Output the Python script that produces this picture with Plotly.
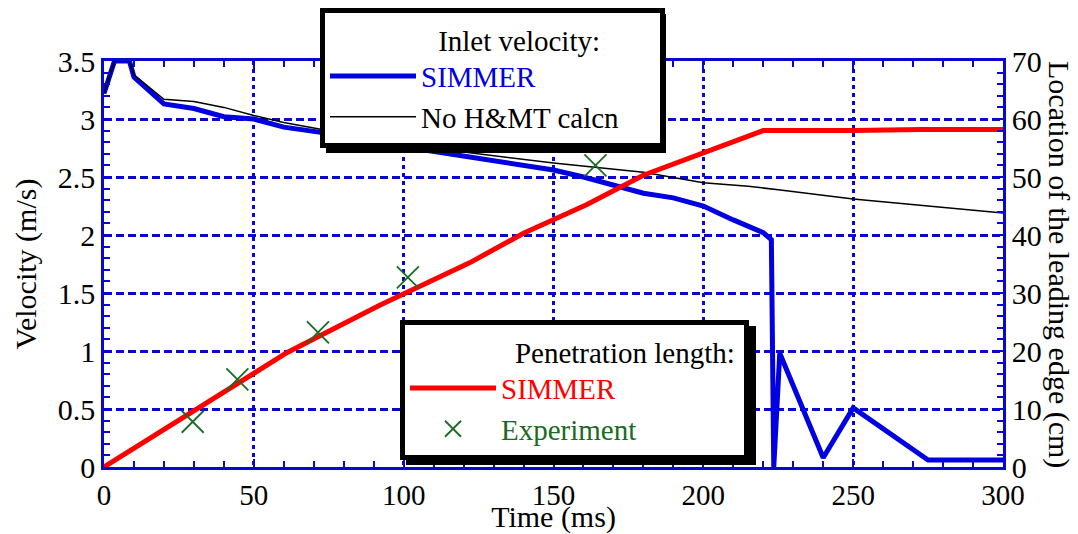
import plotly.graph_objects as go

# ---------------- data ----------------
# Inlet velocity, SIMMER (m/s)
t_simmer = [0, 3.5, 8.5, 10, 20, 30, 40, 50, 60, 70, 80, 90, 100, 110, 120, 130, 140,
            150, 160, 170, 180, 190, 200, 210, 220, 222.7, 223.5, 225.5, 240, 250, 275, 300]
v_simmer = [3.22, 3.5, 3.5, 3.36, 3.13, 3.09, 3.02, 3.0, 2.93, 2.89, 2.86, 2.82, 2.76, 2.72,
            2.68, 2.64, 2.60, 2.56, 2.50, 2.43, 2.36, 2.32, 2.25, 2.13, 2.02, 1.96, 0.0, 0.98,
            0.08, 0.51, 0.06, 0.06]

# Inlet velocity, no H&MT calculation (m/s)
t_nohmt = [0, 3.5, 8.5, 10, 20, 30, 40, 50, 60, 100, 150, 180, 200, 215, 225, 250, 275, 300]
v_nohmt = [3.22, 3.5, 3.5, 3.38, 3.17, 3.15, 3.10, 3.03, 2.97, 2.78, 2.62, 2.54, 2.45,
           2.42, 2.39, 2.31, 2.25, 2.19]

# Penetration length, SIMMER (cm)
t_pen = [0, 40, 61, 92, 122, 140, 161, 180, 220, 250, 273, 300]
x_pen = [0, 12.8, 19.7, 27.9, 35.2, 40.3, 45.2, 50.3, 58.0, 58.0, 58.2, 58.2]

# Penetration length, experiment (cm)
t_exp = [29.6, 44.5, 71.4, 101.4, 164]
x_exp = [7.8, 15.1, 23.2, 32.7, 52.0]

# ---------------- style ----------------
BLUE = "#0000e0"
AXBLUE = "#0808d0"
RED = "#ff0000"
GREEN = "#1b6b24"
FONT = "Liberation Serif, Times New Roman, serif"
FS = 30
LFS = 29
NB = "\u00a0"

W, H = 1078, 534
ML, MR, MT, MB = 104, 75, 61, 67
PW, PH = W - ML - MR, H - MT - MB


def px2paper(xp, yp):
    return (xp - ML) / PW, (H - MB - yp) / PH


fig = go.Figure()
fig.add_trace(go.Scatter(x=t_simmer, y=v_simmer, mode="lines",
                         line=dict(color=BLUE, width=5),
                         name='<span style="color:#0000e0">SIMMER</span>',
                         legend="legend"))
fig.add_trace(go.Scatter(x=t_nohmt, y=v_nohmt, mode="lines",
                         line=dict(color="black", width=1.5),
                         name="No H&MT calcn" + NB * 5, legend="legend"))
fig.add_trace(go.Scatter(x=t_pen, y=x_pen, mode="lines", yaxis="y2",
                         line=dict(color=RED, width=5),
                         name='<span style="color:#ff0000">SIMMER</span>' + NB * 17,
                         legend="legend2"))
fig.add_trace(go.Scatter(x=t_exp, y=x_exp, mode="markers", yaxis="y2",
                         marker=dict(symbol="x-thin", size=22,
                                     line=dict(color=GREEN, width=1.8)),
                         name='<span style="color:#1b6b24">Experiment</span>',
                         legend="legend2"))

axis_common = dict(showline=True, linecolor=AXBLUE, linewidth=2.5, automargin=False,
                   ticks="inside", tickcolor=AXBLUE, tickwidth=2, ticklen=8,
                   zeroline=False)

l1x, l1y = px2paper(320, 8)
l2x, l2y = px2paper(400, 320)

fig.update_layout(
    width=W, height=H,
    margin=dict(l=ML, r=MR, t=MT, b=MB, autoexpand=False),
    paper_bgcolor="white", plot_bgcolor="white",
    font=dict(family=FONT, size=FS, color="black"),
    xaxis=dict(range=[0, 300], dtick=50, tick0=0, mirror="ticks",
               showgrid=True, gridcolor=AXBLUE, gridwidth=3, griddash="4px,4px",
               minor=dict(dtick=10, ticks="inside", ticklen=6, tickcolor=AXBLUE,
                          tickwidth=2, showgrid=False),
               tickfont=dict(family=FONT, size=29, color="black"),
               title=dict(text="Time (ms)", standoff=5,
                          font=dict(family=FONT, size=FS)),
               **axis_common),
    yaxis=dict(range=[0, 3.5], dtick=0.5, tick0=0, mirror="ticks",
               showgrid=True, gridcolor=AXBLUE, gridwidth=2.5, griddash="8px,4px",
               minor=dict(dtick=0.1, ticks="inside", ticklen=6, tickcolor=AXBLUE,
                          tickwidth=2, showgrid=False),
               tickfont=dict(family=FONT, size=FS, color="black"),
               title=dict(text="Velocity (m/s)", standoff=13,
                          font=dict(family=FONT, size=FS)),
               **axis_common),
    yaxis2=dict(range=[0, 70], dtick=10, tick0=0, overlaying="y", side="right",
                showgrid=False,
                minor=dict(dtick=2, ticks="inside", ticklen=6, tickcolor=AXBLUE,
                           tickwidth=2, showgrid=False),
                tickfont=dict(family=FONT, size=FS, color="black"),
                **axis_common),
    legend=dict(x=l1x, y=l1y, xanchor="left", yanchor="top",
                bgcolor="white", bordercolor="black", borderwidth=5,
                itemwidth=86, tracegroupgap=0,
                font=dict(family=FONT, size=LFS, color="black"),
                title=dict(text="Inlet velocity:" + NB * 8, side="top right",
                           font=dict(family=FONT, size=LFS, color="black"))),
    legend2=dict(x=l2x, y=l2y, xanchor="left", yanchor="top",
                 bgcolor="white", bordercolor="black", borderwidth=5,
                 itemwidth=86, tracegroupgap=0,
                 font=dict(family=FONT, size=LFS, color="black"),
                 title=dict(text="Penetration length:" + NB, side="top right",
                            font=dict(family=FONT, size=LFS, color="black"))),
    showlegend=True,
)

# drop shadows of the two legend boxes
for (x0, y0, x1, y1) in [(326, 14, 666, 153), (406, 326, 756, 465)]:
    a0, b0 = px2paper(x0, y1)
    a1, b1 = px2paper(x1, y0)
    fig.add_shape(type="rect", xref="paper", yref="paper", x0=a0, y0=b0, x1=a1, y1=b1,
                  fillcolor="black", line=dict(width=0), layer="above")

# right y-axis title (reads top to bottom)
rx, ry = px2paper(1059, 264)
fig.add_annotation(text="Location of the leading edge (cm)", textangle=90,
                   xref="paper", yref="paper", x=rx, y=ry,
                   xanchor="center", yanchor="middle", showarrow=False,
                   font=dict(family=FONT, size=FS, color="black"))

fig.write_html("out.html", config={"displayModeBar": False},
               post_script="document.body.style.margin='0';")
